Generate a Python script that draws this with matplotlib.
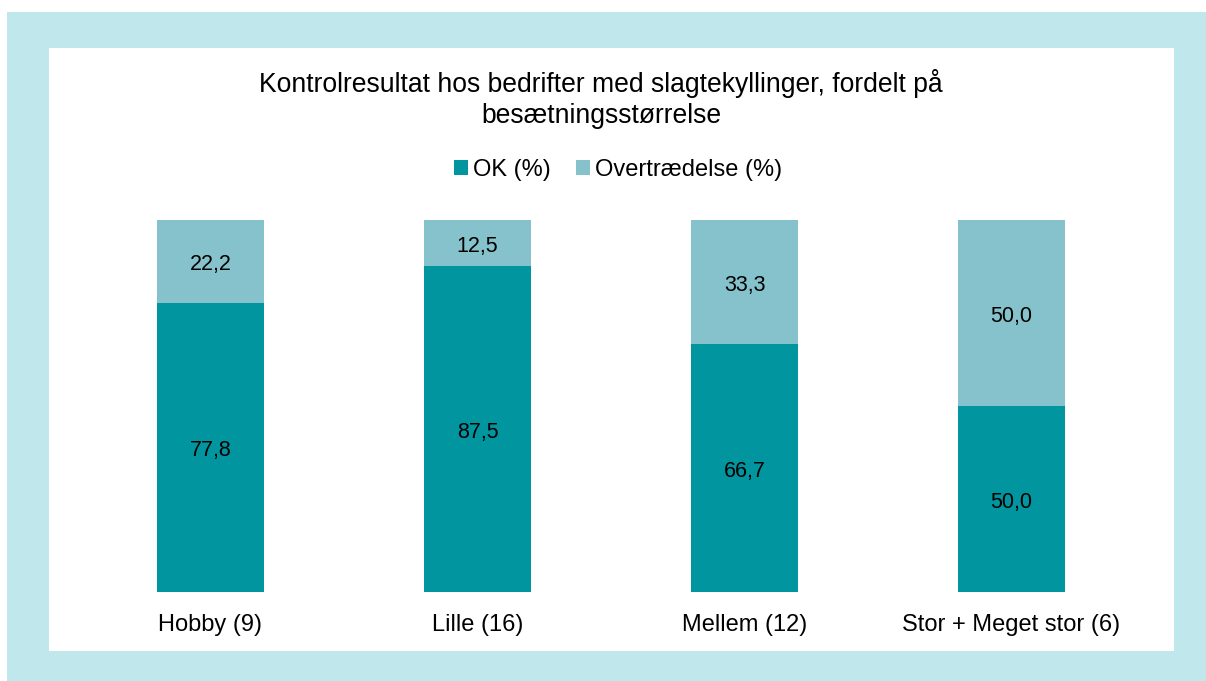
import matplotlib
matplotlib.use("Agg")
import matplotlib.pyplot as plt
from matplotlib.patches import Rectangle
from matplotlib.transforms import offset_copy

plt.rcParams['font.family'] = ['Liberation Sans', 'DejaVu Sans']

categories = ["Hobby (9)", "Lille (16)", "Mellem (12)", "Stor + Meget stor (6)"]
ok_pct = [77.8, 87.5, 66.7, 50.0]
overtr_pct = [22.2, 12.5, 33.3, 50.0]
series_names = ["OK (%)", "Overtrædelse (%)"]
title = "Kontrolresultat hos bedrifter med slagtekyllinger, fordelt på\nbesætningsstørrelse"

c_ok = "#00959F"
c_ov = "#86C2CB"
c_frame = "#C0E8EC"

W, H = 1206, 681
fig = plt.figure(figsize=(W/100, H/100), dpi=100)
fig.patch.set_facecolor("white")
# outer frame
fig.patches.append(Rectangle((7/W, 0), 1 - 7/W, 1 - 12/H, transform=fig.transFigure,
                             facecolor=c_frame, edgecolor="none", zorder=-2))
fig.patches.append(Rectangle((49/W, 1 - 651/H), (1174-49)/W, (651-48)/H, transform=fig.transFigure,
                             facecolor="white", edgecolor="none", zorder=-1))

ax_l, ax_r = 77, 1145
ax_t, ax_b = 220, 592
ax = fig.add_axes([ax_l/W, 1 - ax_b/H, (ax_r-ax_l)/W, (ax_b-ax_t)/H])
ax.set_zorder(5)
ax.set_facecolor("none")
x = list(range(len(categories)))
ax.bar(x, ok_pct, width=0.4, color=c_ok, label=series_names[0])
ax.bar(x, overtr_pct, width=0.4, bottom=ok_pct, color=c_ov, label=series_names[1])
lbl_tr = offset_copy(ax.transData, fig=fig, x=0, y=-2.5, units="points")
for i in x:
    ax.text(i, ok_pct[i]/2, f"{ok_pct[i]:.1f}".replace(".", ","), ha="center", va="center",
            fontsize=15.5, transform=lbl_tr)
    ax.text(i, ok_pct[i] + overtr_pct[i]/2, f"{overtr_pct[i]:.1f}".replace(".", ","), ha="center", va="center",
            fontsize=15.5, transform=lbl_tr)
ax.set_xlim(-0.5, len(categories) - 0.5)
ax.set_ylim(0, 100)
ax.set_xticks(x)
ax.set_xticklabels(categories, fontsize=17)
ax.tick_params(axis="x", length=0, pad=16)
ax.set_yticks([])
for s in ax.spines.values():
    s.set_visible(False)

fig.text(601/W, 1 - 99/H, title, ha="center", va="center", fontsize=19.1, linespacing=1.24)
leg = fig.legend(loc="center", bbox_to_anchor=(618/W, 1 - 170/H), ncol=2, frameon=False,
           fontsize=17, handlelength=0.6, handleheight=0.6, handletextpad=0.2, columnspacing=1.05)
leg.set_zorder(6)

fig.savefig("out.png", dpi=100)
